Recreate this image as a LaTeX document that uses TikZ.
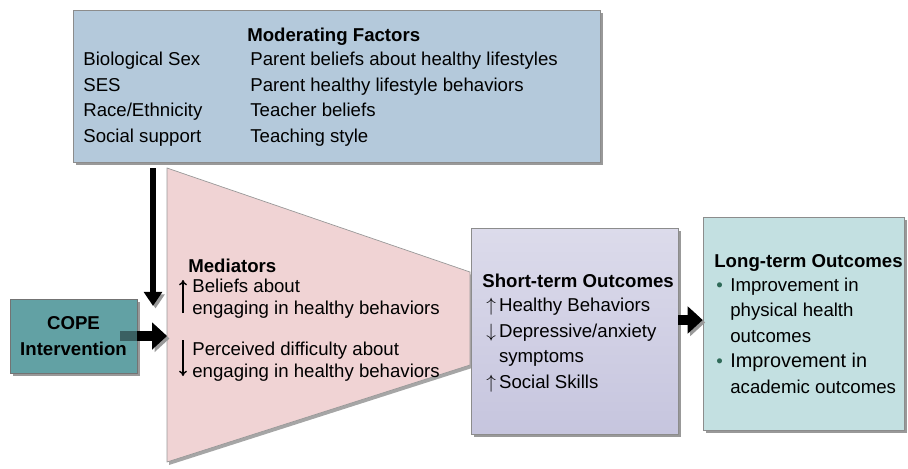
\documentclass[tikz,border=0pt]{standalone}
\usepackage{fontspec}
\setmainfont{Liberation Sans}
\usetikzlibrary{arrows.meta,shadows}

\definecolor{modblue}{HTML}{B4C9DB}
\definecolor{medpink}{HTML}{F0D3D4}
\definecolor{lavtop}{HTML}{DCDBEB}
\definecolor{lavbot}{HTML}{C6C5DE}
\definecolor{longteal}{HTML}{C3E0E1}
\definecolor{copeteal}{HTML}{62A1A4}
\definecolor{bulgreen}{HTML}{2F6A58}

\tikzset{
  box/.style={draw=black!45, line width=0.4pt, inner sep=0pt,
    drop shadow={shadow xshift=0.06cm, shadow yshift=-0.06cm, fill=black!40, opacity=1}},
  % multi-line texts sit on the baseline of their last line
  txt/.style={inner sep=0pt, align=left, anchor=base west, font=\fontsize{10.6}{14.5}\selectfont},
  head/.style={txt, font=\fontsize{10.6}{14.5}\selectfont\bfseries},
  fat/.style={line width=5.8pt, -{Triangle[width=15pt,length=8.5pt]},
    preaction={draw=black!40, transform canvas={shift={(0.05cm,-0.05cm)}}}},
  slim/.style={line width=3.2pt, -{Triangle[width=10pt,length=8pt]},
    preaction={draw=black!40, transform canvas={shift={(0.05cm,-0.05cm)}}}},
  updown/.style={line width=0.8pt, -{To[length=3pt,width=4.5pt]}}
}

\begin{document}
\begin{tikzpicture}[x=0.02cm, y=-0.02cm]
  \useasboundingbox (0,0) rectangle (908,468);

  %%%%% moderating factors %%%%%
  \node[box, fill=modblue, minimum width=10.54cm, minimum height=3.04cm] (moder) at (336.5,86) {};
  \node[head] (modtitle) at (247,41) {Moderating Factors};
  \node[txt] (modleft) at (83,142) {Biological Sex\\ SES\\ Race/Ethnicity\\ Social support};
  \node[txt] (modright) at (250,142) {Parent beliefs about healthy lifestyles\\ Parent healthy lifestyle behaviors\\ Teacher beliefs\\ Teaching style};

  %%%%% mediators (funnel) %%%%%
  \coordinate (tl) at (167,168);
  \coordinate (tr) at (470,272);
  \coordinate (br) at (470,365);
  \coordinate (bl) at (167,462);
  \fill[black!35] ([shift={(2,3)}]tl) -- ([shift={(2,3)}]tr) -- ([shift={(2,3)}]br) -- ([shift={(2,3)}]bl) -- cycle;
  \draw[draw=black!40, fill=medpink] (tl) -- (tr) -- (br) -- (bl) -- cycle;

  \node[head] (medtitle) at (188,272) {Mediators};
  \node[txt, font=\fontsize{10.6}{12}\selectfont] (medup) at (192,314) {Beliefs about\\ engaging in healthy behaviors};
  \node[txt, font=\fontsize{10.6}{12}\selectfont] (meddown) at (192,377) {Perceived difficulty about\\ engaging in healthy behaviors};
  \coordinate (upa) at (183,313);
  \coordinate (upb) at (183,280);
  \coordinate (dna) at (183,340);
  \coordinate (dnb) at (183,376);
  \draw[updown] (upa) -- (upb);
  \draw[updown] (dna) -- (dnb);

  %%%%% COPE %%%%%
  \node[box, fill=copeteal, draw=black!55, minimum width=2.54cm, minimum height=1.48cm,
    align=center, font=\fontsize{10.6}{14.5}\selectfont\bfseries] (cope) at (73.5,336) {COPE\\ Intervention};

  %%%%% outcomes %%%%%
  \node[box, top color=lavtop, bottom color=lavbot, minimum width=4.14cm, minimum height=4.12cm] (short) at (574.5,331) {};
  \node[head] (shorttitle) at (482,287) {Short-term Outcomes};
  \node[txt] (shortlist) at (486,388) {$\uparrow$\,Healthy Behaviors\\ $\downarrow$\,Depressive/anxiety\\ \phantom{$\downarrow$\,}symptoms\\ $\uparrow$\,Social Skills};

  \node[box, fill=longteal, minimum width=4.02cm, minimum height=4.26cm] (long) at (803.5,323.5) {};
  \node[head] (longtitle) at (714,267) {Long-term Outcomes};
  \node[txt] (longlist) at (716,393) {\makebox[0.28cm][l]{\textcolor{bulgreen}{\textbullet}}Improvement in\\
    \hspace*{0.28cm}physical health\\
    \hspace*{0.28cm}outcomes\\
    \makebox[0.28cm][l]{\textcolor{bulgreen}{\textbullet}}{\fontsize{11.3}{14.5}\selectfont Improvement in}\\
    \hspace*{0.28cm}academic outcomes};

  %%%%% arrows %%%%%
  \coordinate (medtip) at (153,306);
  \draw[slim] ([yshift=-0.12cm]moder.south -| medtip) -- (medtip);
  \draw[fat] ([xshift=-0.34cm]cope.east) -- (cope.east -| tl);
  \fill[copeteal, opacity=0.6] ([xshift=-0.34cm, yshift=0.11cm]cope.east) rectangle ([yshift=-0.11cm]cope.east);
  \draw[fat] (short.east |- 0,320) -- (long.west |- 0,320);

\end{tikzpicture}
\end{document}
